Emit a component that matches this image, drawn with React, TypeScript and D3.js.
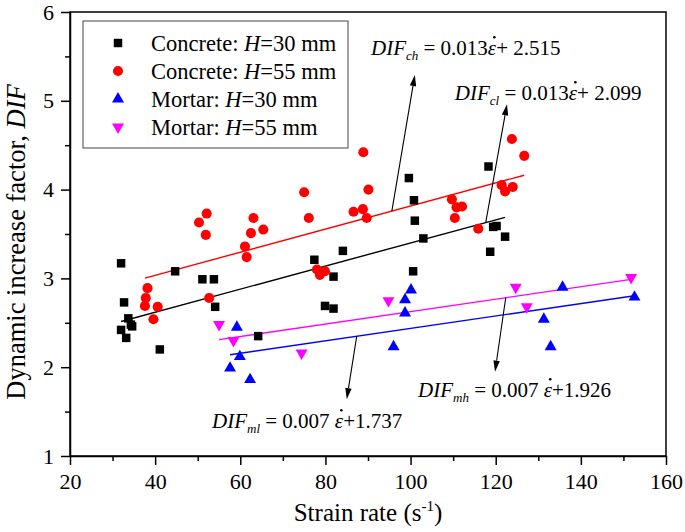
import { useEffect, useRef } from "react";
import * as d3 from "d3";

// Concrete, H = 30 mm (black squares)
const concrete30X = [32.0, 32.7, 33.7, 34.3, 32.0, 34.6, 33.2, 44.7, 41.1, 51.1, 53.8, 54.1, 64.2, 77.4, 84.1, 81.9, 79.9, 81.9, 99.6, 100.8, 101.0, 103.0, 100.6, 118.3, 119.4, 120.2, 118.7, 122.2];
const concrete30Y = [3.17, 2.73, 2.55, 2.48, 2.42, 2.46, 2.33, 3.08, 2.20, 2.99, 2.99, 2.68, 2.35, 3.21, 3.31, 3.02, 2.69, 2.66, 4.13, 3.88, 3.65, 3.45, 3.08, 4.26, 3.58, 3.59, 3.30, 3.47];

// Concrete, H = 55 mm (red circles)
const concrete55X = [50.3, 52.1, 51.9, 63.1, 62.5, 65.4, 61.1, 61.5, 38.2, 37.8, 37.6, 40.6, 39.6, 52.7, 88.9, 75.0, 90.1, 76.1, 86.6, 88.8, 89.7, 109.7, 110.8, 112.1, 110.4, 115.9, 78.0, 78.7, 79.9, 123.8, 126.7, 121.4, 122.2, 124.0];
const concrete55Y = [3.63, 3.73, 3.49, 3.68, 3.51, 3.55, 3.36, 3.24, 2.89, 2.78, 2.69, 2.68, 2.54, 2.78, 4.42, 3.97, 4.00, 3.68, 3.75, 3.78, 3.68, 3.89, 3.80, 3.81, 3.68, 3.56, 3.10, 3.04, 3.08, 4.57, 4.38, 4.05, 3.98, 4.03];

// Mortar, H = 30 mm (blue triangles)
const mortar30X = [59.2, 59.9, 57.6, 62.3, 100.1, 98.7, 98.7, 96.0, 135.7, 152.6, 131.3, 132.9];
const mortar30Y = [2.45, 2.12, 1.99, 1.86, 2.87, 2.76, 2.61, 2.23, 2.90, 2.79, 2.54, 2.23];

// Mortar, H = 55 mm (magenta down triangles)
const mortar55X = [55.0, 58.4, 74.4, 94.8, 124.7, 127.3, 151.8];
const mortar55Y = [2.48, 2.30, 2.16, 2.75, 2.90, 2.68, 3.01];

// linear fits: DIF = slope * strain rate + intercept
const fitSlopes = [0.013, 0.013, 0.007, 0.007];
const fitIntercepts = [2.099, 2.515, 1.737, 1.926];
const fitSubscripts = ["cl", "ch", "ml", "mh"];

const legendMaterials = ["Concrete", "Concrete", "Mortar", "Mortar"];
const legendHeights = ["30", "55", "30", "55"];

const xTicks = [20, 40, 60, 80, 100, 120, 140, 160];
const yTicks = [1, 2, 3, 4, 5, 6];

const series = [
  { xs: concrete30X, ys: concrete30Y, color: "#000000", shape: "square" },
  { xs: concrete55X, ys: concrete55Y, color: "#ff0000", shape: "circle" },
  { xs: mortar30X, ys: mortar30Y, color: "#0000ff", shape: "up" },
  { xs: mortar55X, ys: mortar55Y, color: "#ff00ff", shape: "down" },
];

// annotation placement (data units): arrow leaves the fit line at fromX, points to tip; label at text pos
const annotations = [
  { fit: 1, fromX: 95.6, tipX: 101.0, tipY: 5.29, textX: 90.7, textY: 5.516, gap: false },
  { fit: 0, fromX: 117.65, tipX: 122.65, tipY: 4.96, textX: 110.4, textY: 5.009, gap: false },
  { fit: 3, fromX: 122.35, tipX: 119.84, tipY: 1.95, textX: 101.75, textY: 1.664, gap: true },
  { fit: 2, fromX: 87.35, tipX: 85.0, tipY: 1.64, textX: 53.36, textY: 1.315, gap: true },
];

const FONT = "'Liberation Serif', 'Times New Roman', serif";

const symbolFor = (shape: string) => {
  if (shape === "square") return d3.symbol(d3.symbolSquare, 72);
  if (shape === "circle") return d3.symbol(d3.symbolCircle, 80);
  return d3.symbol(d3.symbolTriangle, 62);
};

const App = () => {
  const svgRef = useRef<SVGSVGElement | null>(null);

  useEffect(() => {
    const svg = d3.select(svgRef.current);
    svg.selectAll("*").remove();

    const x = d3.scaleLinear().domain([20, 160]).range([70, 666]);
    const y = d3.scaleLinear().domain([1, 6]).range([456, 12]);

    const root = svg.append("g").style("font-family", FONT);

    // frame
    root
      .append("rect")
      .attr("x", x(20))
      .attr("y", y(6))
      .attr("width", x(160) - x(20))
      .attr("height", y(1) - y(6))
      .attr("fill", "none")
      .attr("stroke", "#000")
      .attr("stroke-width", 1.5);

    // x axis
    const xAxis = root
      .append("g")
      .attr("transform", `translate(0,${y(1)})`)
      .call(
        d3
          .axisBottom(x)
          .tickValues(xTicks)
          .tickFormat(d3.format("d"))
          .tickSize(9)
          .tickSizeOuter(0)
          .tickPadding(8)
      );
    root
      .append("g")
      .attr("transform", `translate(0,${y(1)})`)
      .call(
        d3.axisBottom(x).tickValues(d3.range(30, 160, 20)).tickSize(5).tickSizeOuter(0).tickFormat(() => "")
      )
      .select(".domain")
      .remove();

    // y axis
    const yAxis = root
      .append("g")
      .attr("transform", `translate(${x(20)},0)`)
      .call(
        d3
          .axisLeft(y)
          .tickValues(yTicks)
          .tickFormat(d3.format("d"))
          .tickSize(9)
          .tickSizeOuter(0)
          .tickPadding(7)
      );
    root
      .append("g")
      .attr("transform", `translate(${x(20)},0)`)
      .call(
        d3.axisLeft(y).tickValues(d3.range(1.5, 6, 1)).tickSize(5).tickSizeOuter(0).tickFormat(() => "")
      )
      .select(".domain")
      .remove();

    root.selectAll("g").attr("font-family", null);
    root.selectAll(".tick line").attr("stroke-width", 1.5);
    root.selectAll(".domain").attr("stroke-width", 1.5);
    [xAxis, yAxis].forEach((a) =>
      a.selectAll("text").style("font-family", FONT).attr("font-size", 22).attr("fill", "#000")
    );

    // axis titles
    const xt = root
      .append("text")
      .attr("x", (x(20) + x(160)) / 2)
      .attr("y", 521)
      .attr("text-anchor", "middle")
      .style("font-family", FONT)
      .attr("font-size", 25);
    xt.append("tspan").text("Strain rate (s");
    xt.append("tspan").attr("dy", -10).attr("font-size", 15).text("-1");
    xt.append("tspan").attr("dy", 10).text(")");

    const yt = root
      .append("text")
      .attr("transform", `translate(25,242) rotate(-90)`)
      .attr("text-anchor", "middle")
      .style("font-family", FONT)
      .attr("font-size", 26.5);
    yt.append("tspan").text("Dynamic increase factor, ");
    yt.append("tspan").attr("font-style", "italic").text("DIF");

    // fit lines, drawn across each series' strain-rate range
    series.forEach((s, i) => {
      const ext = d3.extent(s.xs) as [number, number];
      const line = d3
        .line<number>()
        .x((d) => x(d))
        .y((d) => y(fitSlopes[i] * d + fitIntercepts[i]));
      root
        .append("path")
        .attr("d", line(ext) || "")
        .attr("fill", "none")
        .attr("stroke", s.color)
        .attr("stroke-width", 1.4);
    });

    // markers
    series.forEach((s) => {
      const sym = symbolFor(s.shape);
      root
        .append("g")
        .selectAll("path")
        .data(s.xs.map((v, j) => [v, s.ys[j]]))
        .join("path")
        .attr("d", sym() || "")
        .attr("fill", s.color)
        .attr(
          "transform",
          (d) =>
            `translate(${x(d[0])},${y(d[1])})${s.shape === "down" ? " rotate(180)" : ""}`
        );
    });

    // annotations
    annotations.forEach((a) => {
      const x0 = x(a.fromX);
      const y0 = y(fitSlopes[a.fit] * a.fromX + fitIntercepts[a.fit]);
      const x1 = x(a.tipX);
      const y1 = y(a.tipY);
      const ang = Math.atan2(y1 - y0, x1 - x0);
      const hl = 11;
      const hw = 3.2;
      const bx = x1 - hl * Math.cos(ang);
      const by = y1 - hl * Math.sin(ang);
      root
        .append("line")
        .attr("x1", x0)
        .attr("y1", y0)
        .attr("x2", bx)
        .attr("y2", by)
        .attr("stroke", "#000")
        .attr("stroke-width", 1.1);
      root
        .append("path")
        .attr(
          "d",
          `M${x1},${y1}L${bx + hw * Math.sin(ang)},${by - hw * Math.cos(ang)}L${bx - hw * Math.sin(ang)},${by + hw * Math.cos(ang)}Z`
        )
        .attr("fill", "#000");

      const t = root
        .append("text")
        .attr("x", x(a.textX))
        .attr("y", y(a.textY))
        .style("font-family", FONT)
        .attr("font-size", 21);
      t.append("tspan").attr("font-style", "italic").text("DIF");
      t.append("tspan")
        .attr("font-style", "italic")
        .attr("font-size", 13)
        .attr("dy", 5)
        .text(fitSubscripts[a.fit]);
      t.append("tspan")
        .attr("dy", -5)
        .text(` = ${fitSlopes[a.fit].toFixed(3)}${a.gap ? " " : ""}`);
      const eps = t.append("tspan").attr("font-style", "italic").text("\u03b5");
      t.append("tspan").text(`+${a.gap ? "" : " "}${fitIntercepts[a.fit].toFixed(3)}`);

      // dot over epsilon (strain rate)
      const node = eps.node() as SVGTSpanElement;
      let cx = x(a.textX);
      let top = y(a.textY) - 12;
      try {
        const b = node.getBBox();
        cx = b.x + b.width / 2 + 2;
        top = b.y + b.height * 0.3;
      } catch (e) {
        console.log(e);
      }
      root.append("circle").attr("cx", cx).attr("cy", top - 6).attr("r", 1.3).attr("fill", "#000");
    });

    // legend
    const lg = root.append("g");
    lg.append("rect")
      .attr("x", 83)
      .attr("y", 21)
      .attr("width", 265)
      .attr("height", 127)
      .attr("fill", "#fff")
      .attr("stroke", "#444")
      .attr("stroke-width", 1);
    series.forEach((s, i) => {
      const cy = 43 + i * 28;
      lg.append("path")
        .attr("d", symbolFor(s.shape)() || "")
        .attr("fill", s.color)
        .attr("transform", `translate(118,${cy})${s.shape === "down" ? " rotate(180)" : ""}`);
      const lt = lg
        .append("text")
        .attr("x", 151)
        .attr("y", cy + 7.5)
        .style("font-family", FONT)
        .attr("font-size", 22.5);
      lt.append("tspan").text(`${legendMaterials[i]}: `);
      lt.append("tspan").attr("font-style", "italic").text("H");
      lt.append("tspan").text(`=${legendHeights[i]} mm`);
    });
  }, []);

  return (
    <svg
      ref={svgRef}
      width={685}
      height={532}
      style={{ position: "absolute", left: 0, top: 0, background: "#fff" }}
    />
  );
};

export default App;
